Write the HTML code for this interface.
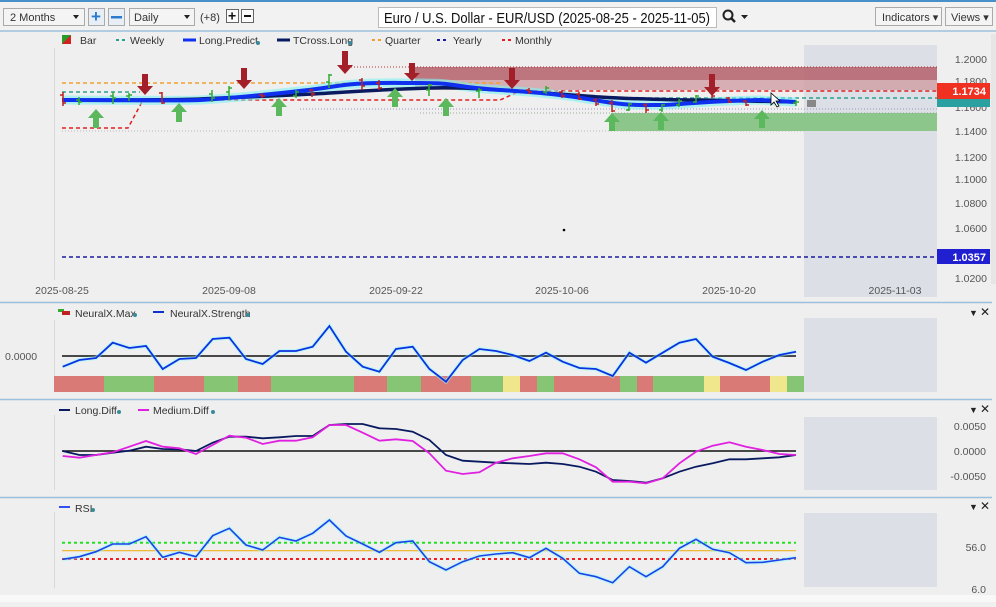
<!DOCTYPE html>
<html><head><meta charset="utf-8"><style>
body{margin:0;width:996px;height:602px;overflow:hidden;background:#f0f0f0;font-family:"Liberation Sans",sans-serif}
</style></head><body>
<svg width="996" height="602" xmlns="http://www.w3.org/2000/svg" font-family="Liberation Sans, sans-serif">
<rect width="996" height="602" fill="#efefef"/>
<rect x="0" y="0" width="996" height="2" fill="#4a90c8"/>
<!-- toolbar -->
<rect x="0" y="2" width="996" height="29" fill="#f2f2f2"/>
<line x1="0" y1="31" x2="996" y2="31" stroke="#9cc0dc" stroke-width="1.5"/>
<rect x="3.5" y="8.5" width="81" height="17" fill="#f4f4f4" stroke="#aaa"/>
<text x="10" y="21" font-size="11" fill="#333">2 Months</text><path d="M73 15 l6 0 l-3 4z" fill="#222"/>
<rect x="88.5" y="8.5" width="16" height="17" fill="#e8eef5" stroke="#aaa"/>
<text x="91" y="22" font-size="17" fill="#2a7ad0" font-weight="bold">+</text>
<rect x="108.5" y="8.5" width="16" height="17" fill="#e8eef5" stroke="#aaa"/>
<rect x="111" y="16" width="11" height="2.5" fill="#2a7ad0"/>
<rect x="129.5" y="8.5" width="65" height="17" fill="#f4f4f4" stroke="#aaa"/>
<text x="134" y="21" font-size="11" fill="#333">Daily</text><path d="M184 15 l6 0 l-3 4z" fill="#222"/>
<text x="200" y="21" font-size="11" fill="#333">(+8)</text>
<rect x="226.5" y="9.5" width="12" height="13" fill="#fafafa" stroke="#666"/><text x="228" y="20.5" font-size="14" font-weight="bold" fill="#111">+</text>
<rect x="241.5" y="9.5" width="12" height="13" fill="#fafafa" stroke="#666"/><rect x="244" y="15" width="7" height="2" fill="#111"/>
<rect x="378.5" y="7.5" width="338" height="20" fill="#fff" stroke="#bbb"/>
<text x="384" y="23" font-size="14.5" fill="#111" textLength="326" lengthAdjust="spacingAndGlyphs">Euro / U.S. Dollar - EUR/USD (2025-08-25 - 2025-11-05)</text>
<circle cx="728" cy="15" r="4.5" fill="none" stroke="#222" stroke-width="2"/><line x1="731" y1="18" x2="735" y2="22" stroke="#222" stroke-width="2.5"/>
<path d="M741 15 l7 0 l-3.5 4z" fill="#222"/>
<rect x="875.5" y="7.5" width="66" height="18" fill="#f4f4f4" stroke="#aaa"/><text x="882" y="21" font-size="11" fill="#333">Indicators ▾</text>
<rect x="945.5" y="7.5" width="47" height="18" fill="#f4f4f4" stroke="#aaa"/><text x="951" y="21" font-size="11" fill="#333">Views ▾</text>

<!-- main panel -->
<rect x="804" y="45" width="133" height="252" fill="#dcdfe6"/>
<line x1="54.5" y1="48" x2="54.5" y2="280" stroke="#d8d8d8"/>
<line x1="62" y1="131" x2="804" y2="131" stroke="#bbb" stroke-dasharray="1,2"/>
<!-- legend -->
<g font-size="10.5" fill="#333">
<path d="M62 35 h9 v9 h-9z" fill="#2a9a2a"/><path d="M71 35 v9 h-9z" fill="#d42020"/>
<text x="80" y="44">Bar</text>
<line x1="116" y1="40" x2="126" y2="40" stroke="#2aa090" stroke-width="2" stroke-dasharray="3,3"/><text x="130" y="44">Weekly</text>
<line x1="183" y1="40" x2="196" y2="40" stroke="#1030f0" stroke-width="3"/><text x="199" y="44">Long.Predict</text><circle cx="258" cy="43" r="2" fill="#3a8a9a"/>
<line x1="277" y1="40" x2="290" y2="40" stroke="#0a1a60" stroke-width="3"/><text x="293" y="44">TCross.Long</text><circle cx="350" cy="43" r="2" fill="#3a8a9a"/>
<line x1="372" y1="40" x2="382" y2="40" stroke="#f0a030" stroke-width="2" stroke-dasharray="3,3"/><text x="385" y="44">Quarter</text>
<line x1="437" y1="40" x2="447" y2="40" stroke="#1a1aa0" stroke-width="2" stroke-dasharray="3,3"/><text x="453" y="44">Yearly</text>
<line x1="502" y1="40" x2="512" y2="40" stroke="#e02020" stroke-width="2" stroke-dasharray="3,3"/><text x="515" y="44">Monthly</text>
</g>
<!-- zones -->
<rect x="415" y="67" width="522" height="13" fill="#b5606a" opacity="0.85"/>
<rect x="415" y="80" width="522" height="10" fill="#cf9ea4" opacity="0.8"/>
<line x1="345" y1="67" x2="937" y2="67" stroke="#b03030" stroke-dasharray="1,2"/>
<rect x="611" y="113" width="326" height="18" fill="#8cc68a"/>
<line x1="300" y1="109" x2="937" y2="109" stroke="#99b" stroke-dasharray="1,2"/>
<line x1="420" y1="113" x2="937" y2="113" stroke="#9a9" stroke-dasharray="1,2"/>
<!-- horizontal levels -->
<line x1="62" y1="83" x2="500" y2="83" stroke="#f0a030" stroke-width="1.5" stroke-dasharray="4,3"/>
<line x1="62" y1="92" x2="140" y2="92" stroke="#2aa090" stroke-width="1.5" stroke-dasharray="4,3"/>
<line x1="620" y1="98" x2="937" y2="98" stroke="#2aa090" stroke-width="1.5" stroke-dasharray="4,3"/>
<path d="M62 128 H128 L143 100 H500 L520 91 H937" fill="none" stroke="#e02020" stroke-width="1.5" stroke-dasharray="4,3"/>
<line x1="62" y1="257" x2="937" y2="257" stroke="#1a1aa0" stroke-width="1.5" stroke-dasharray="4,3"/>
<circle cx="564" cy="230" r="1.3" fill="#000"/>
<!-- prediction lines -->
<path d="M62 100 C120 100 180 101 200 100 S300 92 330 87 S380 83 420 83 S450 87 500 90 S570 96 600 101 S640 105 660 105 S700 101 760 100 L796 102" fill="none" stroke="#7ff0f0" stroke-width="9" opacity="0.6"/>
<path d="M62 100 C120 100 180 100 200 99 S300 95 330 93 S400 89 430 88 S480 89 500 90 S570 95 600 97 S680 100 700 100 L796 102" fill="none" stroke="#0a1a60" stroke-width="3.5"/>
<path d="M62 100 C120 100 180 101 200 100 S300 92 330 87 S380 83 420 83 S450 87 500 90 S570 96 600 101 S640 105 660 105 S700 101 760 100 L796 102" fill="none" stroke="#1030f0" stroke-width="4"/>
<!-- bars -->
<g stroke-width="1.5" fill="none">
<path d="M63 92v14M63 95h-3M63 103h3" stroke="#c02020"/>
<path d="M79 97v8M79 100h-3M79 102h3" stroke="#3a3"/>
<path d="M113 92v12M113 96h-3M113 98h3" stroke="#3a3"/>
<path d="M129 93v8M129 96h-3M129 95h3" stroke="#3a3"/>
<path d="M162 92v12M162 93h-3M162 103h3" stroke="#c02020"/>
<path d="M212 90v12M212 94h-3M212 98h3" stroke="#3a3"/>
<path d="M229 86v14M229 92h-3M229 88h3" stroke="#3a3"/>
<path d="M262 93v5M262 95h-3M262 96h3" stroke="#c02020"/>
<path d="M296 90v8M296 96h-3M296 92h3" stroke="#3a3"/>
<path d="M312 89v8M312 90h-3M312 94h3" stroke="#c02020"/>
<path d="M329 74v14M329 82h-3M329 75h3" stroke="#3a3"/>
<path d="M362 78v12M362 80h-3M362 86h3" stroke="#c02020"/>
<path d="M379 80v10M379 83h-3M379 88h3" stroke="#c02020"/>
<path d="M429 84v12M429 90h-3M429 85h3" stroke="#3a3"/>
<path d="M479 88v10M479 91h-3M479 90h3" stroke="#3a3"/>
<path d="M529 88v6M529 90h-3M529 92h3" stroke="#c02020"/>
<path d="M546 86v8M546 92h-3M546 88h3" stroke="#3a3"/>
<path d="M562 90v8M562 92h-3M562 96h3" stroke="#c02020"/>
<path d="M579 92v8M579 94h-3M579 99h3" stroke="#c02020"/>
<path d="M596 98v8M596 100h-3M596 104h3" stroke="#c02020"/>
<path d="M612 100v12M612 103h-3M612 111h3" stroke="#c02020"/>
<path d="M629 103v8M629 110h-3M629 104h3" stroke="#3a3"/>
<path d="M646 103v10M646 105h-3M646 110h3" stroke="#c02020"/>
<path d="M662 104v8M662 110h-3M662 105h3" stroke="#3a3"/>
<path d="M679 99v8M679 105h-3M679 101h3" stroke="#3a3"/>
<path d="M696 95v8M696 102h-3M696 96h3" stroke="#3a3"/>
<path d="M712 90v8M712 92h-3M712 96h3" stroke="#c02020"/>
<path d="M729 97v6M729 98h-3M729 102h3" stroke="#c02020"/>
<path d="M746 100v6M746 101h-3M746 105h3" stroke="#c02020"/>
<path d="M796 100v6M796 103h-3M796 102h3" stroke="#3a3"/>
</g>
<rect x="807" y="100" width="9" height="7" fill="#888"/>
<!-- arrows -->
<g fill="#a3202a">
<path d="M142 74h6v12h5l-8 9l-8-9h5z"/><path d="M241 68h6v12h5l-8 9l-8-9h5z"/>
<path d="M342 51h6v14h5l-8 9l-8-9h5z"/><path d="M409 63h6v10h5l-8 8l-8-8h5z"/>
<path d="M509 68h6v12h5l-8 9l-8-9h5z"/><path d="M709 74h6v13h5l-8 9l-8-9h5z"/>
</g>
<g fill="#5cb85c">
<path d="M96 109l8 9h-5v10h-6v-10h-5z"/><path d="M179 103l8 9h-5v10h-6v-10h-5z"/>
<path d="M279 98l8 9h-5v9h-6v-9h-5z"/><path d="M395 88l8 9h-5v10h-6v-10h-5z"/>
<path d="M446 98l8 9h-5v9h-6v-9h-5z"/><path d="M612 113l8 9h-5v9h-6v-9h-5z"/>
<path d="M661 112l8 9h-5v9h-6v-9h-5z"/><path d="M762 110l8 9h-5v9h-6v-9h-5z"/>
</g>
<path d="M771 93 l0 12 l3 -3 l3 5 l2 -1 l-3 -5 l4 0z" fill="#fff" stroke="#000" stroke-width="0.8"/>
<!-- right axis main -->
<g font-size="10.5" fill="#555" text-anchor="end">
<text x="987" y="63">1.2000</text><text x="987" y="85">1.1800</text><text x="987" y="111">1.1600</text>
<text x="987" y="135">1.1400</text><text x="987" y="161">1.1200</text><text x="987" y="183">1.1000</text>
<text x="987" y="207">1.0800</text><text x="987" y="232">1.0600</text><text x="987" y="282">1.0200</text>
</g>
<rect x="937" y="98" width="53" height="9" fill="#2aa0a0"/>
<rect x="937" y="83" width="53" height="16" fill="#f03020"/>
<text x="986" y="95" font-size="11" font-weight="bold" fill="#fff" text-anchor="end">1.1734</text>
<rect x="937" y="249" width="53" height="15" fill="#2020d0"/>
<text x="986" y="261" font-size="11" font-weight="bold" fill="#fff" text-anchor="end">1.0357</text>
<rect x="991" y="34" width="5" height="250" fill="#e6e6e6"/>
<g font-size="10.5" fill="#555" text-anchor="middle">
<text x="62" y="294">2025-08-25</text><text x="229" y="294">2025-09-08</text><text x="396" y="294">2025-09-22</text>
<text x="562" y="294">2025-10-06</text><text x="729" y="294">2025-10-20</text><text x="895" y="294">2025-11-03</text>
</g>
<line x1="0" y1="302.5" x2="992" y2="302.5" stroke="#9cc0dc" stroke-width="1.5"/>
<line x1="0" y1="399.5" x2="992" y2="399.5" stroke="#9cc0dc" stroke-width="1.5"/>
<line x1="0" y1="497.5" x2="992" y2="497.5" stroke="#9cc0dc" stroke-width="1.5"/>

<!-- panel 1 -->
<rect x="804" y="318" width="133" height="74" fill="#dcdfe6"/>
<line x1="54.5" y1="320" x2="54.5" y2="392" stroke="#d8d8d8"/>
<g font-size="10.5" fill="#333">
<rect x="58" y="309" width="6" height="3" fill="#3a3"/><rect x="62" y="311" width="8" height="4" fill="#c02020"/>
<text x="75" y="317">NeuralX.Max</text><circle cx="135" cy="315" r="2" fill="#3a8a9a"/>
<line x1="153" y1="312" x2="164" y2="312" stroke="#1030d0" stroke-width="2"/><text x="170" y="317">NeuralX.Strength</text><circle cx="248" cy="315" r="2" fill="#3a8a9a"/>
<text x="5" y="360" fill="#555">0.0000</text>
</g>
<g>
<rect x="54" y="376" width="50" height="16" fill="#d97a76"/><rect x="104" y="376" width="50" height="16" fill="#86c574"/>
<rect x="154" y="376" width="50" height="16" fill="#d97a76"/><rect x="204" y="376" width="34" height="16" fill="#86c574"/>
<rect x="238" y="376" width="33" height="16" fill="#d97a76"/><rect x="271" y="376" width="83" height="16" fill="#86c574"/>
<rect x="354" y="376" width="33" height="16" fill="#d97a76"/><rect x="387" y="376" width="34" height="16" fill="#86c574"/>
<rect x="421" y="376" width="50" height="16" fill="#d97a76"/><rect x="471" y="376" width="32" height="16" fill="#86c574"/>
<rect x="503" y="376" width="17" height="16" fill="#f0e68c"/><rect x="520" y="376" width="17" height="16" fill="#d97a76"/>
<rect x="537" y="376" width="17" height="16" fill="#86c574"/><rect x="554" y="376" width="66" height="16" fill="#d97a76"/>
<rect x="620" y="376" width="17" height="16" fill="#86c574"/><rect x="637" y="376" width="16" height="16" fill="#d97a76"/>
<rect x="653" y="376" width="51" height="16" fill="#86c574"/><rect x="704" y="376" width="16" height="16" fill="#f0e68c"/>
<rect x="720" y="376" width="50" height="16" fill="#d97a76"/><rect x="770" y="376" width="17" height="16" fill="#f0e68c"/>
<rect x="787" y="376" width="17" height="16" fill="#86c574"/>
</g>
<line x1="62" y1="356" x2="796" y2="356" stroke="#111" stroke-width="1.5"/>
<polyline fill="none" stroke="#8ff" stroke-width="4" opacity="0.5" points="62.7,366.7 79.4,360 96,358 112.7,342.7 129.4,348 146,346 162.7,369 179.4,359 196,358 212.7,339 229.4,337.7 246,359 262.7,364 279.4,351 296,351 312.7,346.7 329.4,326 346,351.7 362.7,366.7 379.4,371.7 396,349 412.7,346.7 429.4,369 446,381.7 462.7,360 479.4,349 496,351 512.7,355 529.4,361 546,352.7 562.7,361.7 579.4,368 596,369 612.7,376 629.4,352.7 646,362.7 662.7,352.7 679.4,342.7 696,339 712.7,356.7 729.4,363 746,370 762.7,361.7 779.4,355 796,351.7"/>
<polyline fill="none" stroke="#1030e0" stroke-width="1.8" points="62.7,366.7 79.4,360 96,358 112.7,342.7 129.4,348 146,346 162.7,369 179.4,359 196,358 212.7,339 229.4,337.7 246,359 262.7,364 279.4,351 296,351 312.7,346.7 329.4,326 346,351.7 362.7,366.7 379.4,371.7 396,349 412.7,346.7 429.4,369 446,381.7 462.7,360 479.4,349 496,351 512.7,355 529.4,361 546,352.7 562.7,361.7 579.4,368 596,369 612.7,376 629.4,352.7 646,362.7 662.7,352.7 679.4,342.7 696,339 712.7,356.7 729.4,363 746,370 762.7,361.7 779.4,355 796,351.7"/>
<text x="969" y="316" font-size="9" fill="#222">▼</text><text x="980" y="316" font-size="12" fill="#222">✕</text>

<!-- panel 2 -->
<rect x="804" y="417" width="133" height="73" fill="#dcdfe6"/>
<line x1="54.5" y1="415" x2="54.5" y2="490" stroke="#d8d8d8"/>
<g font-size="10.5" fill="#333">
<line x1="59" y1="410" x2="70" y2="410" stroke="#0a1a60" stroke-width="2"/><text x="75" y="414">Long.Diff</text><circle cx="119" cy="412" r="2" fill="#3a8a9a"/>
<line x1="138" y1="410" x2="149" y2="410" stroke="#e020e0" stroke-width="2"/><text x="153" y="414">Medium.Diff</text><circle cx="213" cy="412" r="2" fill="#3a8a9a"/>
</g>
<line x1="62" y1="451" x2="796" y2="451" stroke="#111" stroke-width="1.5"/>
<polyline fill="none" stroke="#0a1a60" stroke-width="1.8" points="62.7,451 79.4,455 96,455 112.7,452.7 129.4,450.7 146,446.7 162.7,449 179.4,449.3 196,451 212.7,442.7 229.4,436.7 246,436.7 262.7,438.3 279.4,437.3 296,436 312.7,436 329.4,425 346,424 362.7,424 379.4,428.3 396,429 412.7,431.7 429.4,440 446,455 462.7,460.7 479.4,461.7 496,462.7 512.7,463.3 529.4,464 546,462.7 562.7,464 579.4,466.7 596,471.7 612.7,480 629.4,481 646,482.7 662.7,478.3 679.4,471.7 696,466.7 712.7,463.3 729.4,459.3 746,459.3 762.7,458.3 779.4,457.3 796,455"/>
<polyline fill="none" stroke="#e020e0" stroke-width="1.8" points="62.7,456 79.4,457.7 96,455 112.7,452.3 129.4,446.7 146,441 162.7,446.7 179.4,448.3 196,454 212.7,445 229.4,435.7 246,437.7 262.7,444 279.4,440.7 296,440.7 312.7,437.3 329.4,425 346,425 362.7,432.7 379.4,440.7 396,439.3 412.7,441 429.4,453.3 446,470.7 462.7,474 479.4,472.3 496,462.7 512.7,458.3 529.4,456 546,453.3 562.7,453.3 579.4,459.3 596,467.3 612.7,481.7 629.4,481.7 646,483.3 662.7,478.3 679.4,463.3 696,451.7 712.7,445.7 729.4,442.3 746,446.7 762.7,450 779.4,454 796,455"/>
<g font-size="10.5" fill="#555" text-anchor="end">
<text x="986" y="430">0.0050</text><text x="986" y="455">0.0000</text><text x="986" y="480">-0.0050</text>
</g>
<text x="969" y="413" font-size="9" fill="#222">▼</text><text x="980" y="413" font-size="12" fill="#222">✕</text>

<!-- panel 3 -->
<rect x="804" y="513" width="133" height="74" fill="#dcdfe6"/>
<line x1="54.5" y1="512" x2="54.5" y2="588" stroke="#d8d8d8"/>
<g font-size="10.5" fill="#333">
<line x1="59" y1="507" x2="70" y2="507" stroke="#3050f0" stroke-width="2"/><text x="75" y="512">RSI</text><circle cx="93" cy="510" r="2" fill="#3a8a9a"/>
</g>
<line x1="62" y1="542.7" x2="796" y2="542.7" stroke="#20e020" stroke-width="2" stroke-dasharray="3,3"/>
<line x1="62" y1="550.7" x2="796" y2="550.7" stroke="#f0b020" stroke-width="1.2"/>
<line x1="62" y1="559" x2="796" y2="559" stroke="#f02020" stroke-width="2" stroke-dasharray="3,3"/>
<polyline fill="none" stroke="#8ff" stroke-width="4" opacity="0.5" points="62.7,559.3 79.4,556.7 96,551.7 112.7,544 129.4,544 146,536.7 162.7,557.3 179.4,552.3 196,556.7 212.7,535.7 229.4,528.3 246,545 262.7,550 279.4,537.3 296,541 312.7,533.3 329.4,520 346,536 362.7,544 379.4,552.3 396,542.7 412.7,541 429.4,561.7 446,570 462.7,561.7 479.4,556 496,554 512.7,552.7 529.4,557.7 546,548.3 562.7,558.3 579.4,573.3 596,576.7 612.7,582.7 629.4,566.7 646,576.7 662.7,566.7 679.4,548.3 696,539.3 712.7,549.3 729.4,552.7 746,562.7 762.7,562.3 779.4,560 796,557.7"/>
<polyline fill="none" stroke="#2040e8" stroke-width="1.6" points="62.7,559.3 79.4,556.7 96,551.7 112.7,544 129.4,544 146,536.7 162.7,557.3 179.4,552.3 196,556.7 212.7,535.7 229.4,528.3 246,545 262.7,550 279.4,537.3 296,541 312.7,533.3 329.4,520 346,536 362.7,544 379.4,552.3 396,542.7 412.7,541 429.4,561.7 446,570 462.7,561.7 479.4,556 496,554 512.7,552.7 529.4,557.7 546,548.3 562.7,558.3 579.4,573.3 596,576.7 612.7,582.7 629.4,566.7 646,576.7 662.7,566.7 679.4,548.3 696,539.3 712.7,549.3 729.4,552.7 746,562.7 762.7,562.3 779.4,560 796,557.7"/>
<g font-size="10.5" fill="#555" text-anchor="end">
<text x="986" y="551">56.0</text><text x="986" y="593">6.0</text>
</g>
<text x="969" y="510" font-size="9" fill="#222">▼</text><text x="980" y="510" font-size="12" fill="#222">✕</text>
<rect x="0" y="595" width="996" height="7" fill="#f8f8f8"/>
</svg>
</body></html>
